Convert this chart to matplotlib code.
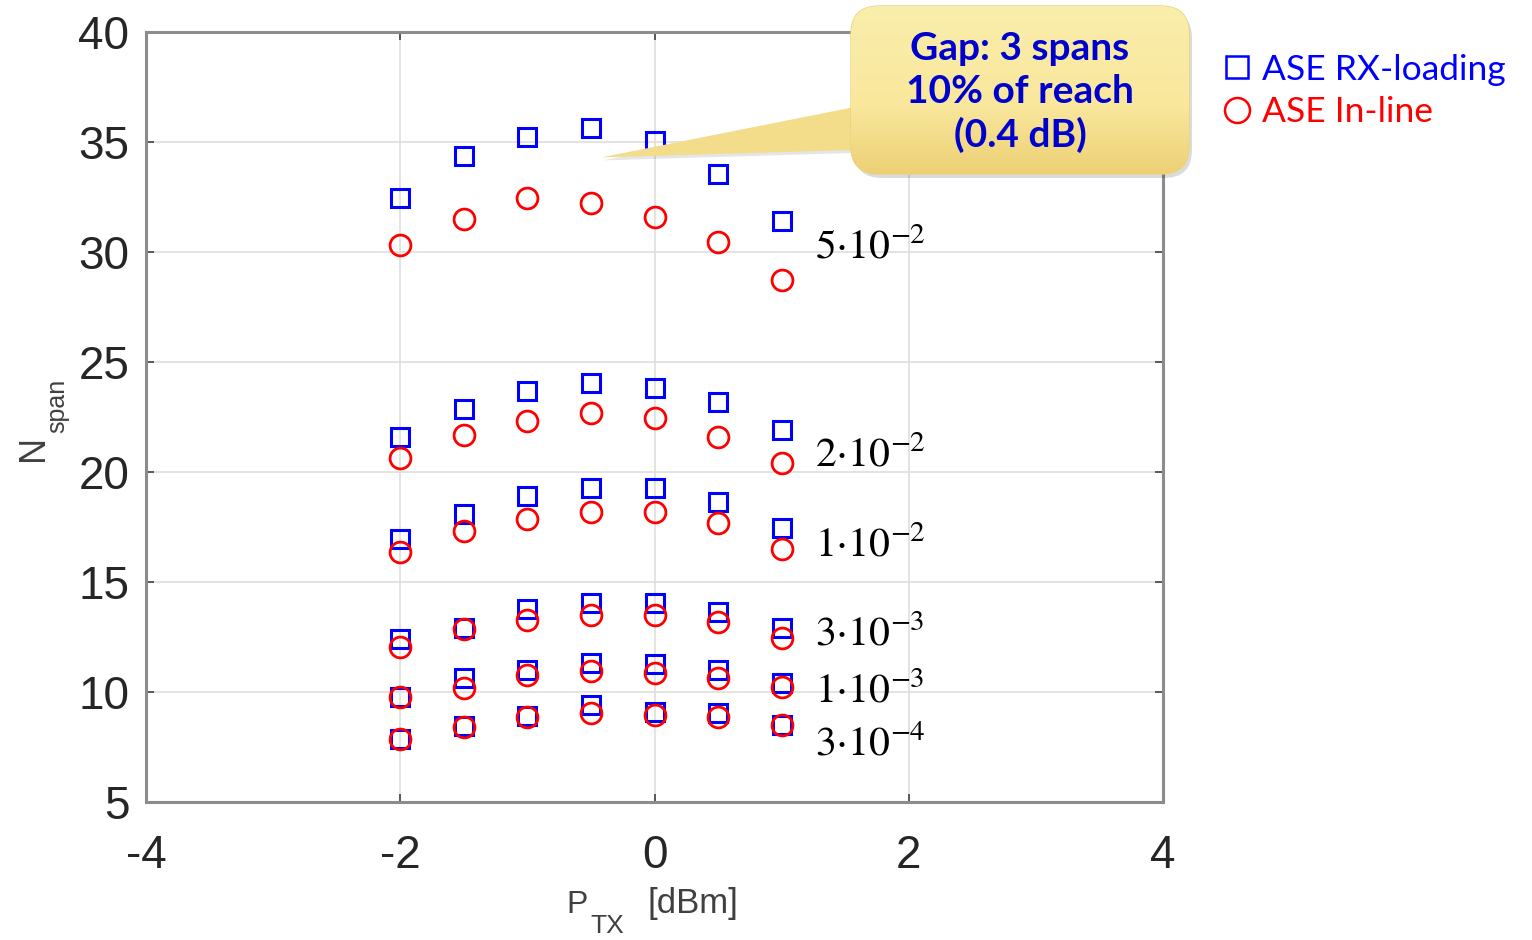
import numpy as np
import matplotlib
matplotlib.use("Agg")
import matplotlib.pyplot as plt
from matplotlib.patches import FancyBboxPatch, Polygon
from matplotlib.lines import Line2D

# Launch power sweep [dBm]
p_tx = [-2.0, -1.5, -1.0, -0.5, 0.0, 0.5, 1.0]

# Number of spans reached, ASE loading at the receiver (squares)
rx_5e2 = [32.44, 34.36, 35.21, 35.62, 35.05, 33.53, 31.41]
rx_2e2 = [21.60, 22.86, 23.70, 24.03, 23.83, 23.20, 21.90]
rx_1e2 = [16.94, 18.09, 18.92, 19.26, 19.26, 18.62, 17.44]
rx_3e3 = [12.39, 12.90, 13.76, 14.06, 14.06, 13.65, 12.92]
rx_1e3 = [9.79, 10.62, 11.00, 11.30, 11.27, 11.00, 10.42]
rx_3e4 = [7.86, 8.45, 8.91, 9.41, 9.10, 9.03, 8.50]

# Number of spans reached, ASE generated in-line (circles)
inl_5e2 = [30.32, 31.50, 32.44, 32.24, 31.60, 30.44, 28.73]
inl_2e2 = [20.62, 21.68, 22.33, 22.67, 22.47, 21.60, 20.42]
inl_1e2 = [16.38, 17.33, 17.86, 18.20, 18.20, 17.67, 16.49]
inl_3e3 = [12.06, 12.86, 13.27, 13.50, 13.50, 13.20, 12.44]
inl_1e3 = [9.76, 10.17, 10.77, 10.95, 10.85, 10.62, 10.24]
inl_3e4 = [7.86, 8.42, 8.88, 9.03, 8.95, 8.88, 8.50]

# Target BER of each curve pair
ber_labels = [r"$5{\cdot}10^{-2}$", r"$2{\cdot}10^{-2}$", r"$1{\cdot}10^{-2}$",
              r"$3{\cdot}10^{-3}$", r"$1{\cdot}10^{-3}$", r"$3{\cdot}10^{-4}$"]
label_x = 1.26
label_y = [29.72, 20.25, 16.18, 12.12, 9.52, 7.12]

x_ticks = [-4, -2, 0, 2, 4]
y_ticks = [5, 10, 15, 20, 25, 30, 35, 40]

legend_labels = ["ASE RX-loading", "ASE In-line"]
callout_text = "Gap: 3 spans\n10% of reach\n(0.4 dB)"

W, H = 1532, 940

fig = plt.figure(figsize=(W / 100, H / 100), dpi=100)
ax = fig.add_axes([146 / W, 1 - 802 / H, (1163 - 146) / W, (802 - 32) / H])

blue, red = "#0000FF", "#FF0000"
rx_sets = [rx_5e2, rx_2e2, rx_1e2, rx_3e3, rx_1e3, rx_3e4]
inl_sets = [inl_5e2, inl_2e2, inl_1e2, inl_3e3, inl_1e3, inl_3e4]
for rx in rx_sets:
    ax.plot(p_tx, rx, ls="none", marker="s", ms=12.5, mfc="none", mec=blue,
            mew=2.2, zorder=3)
for inl in inl_sets:
    ax.plot(p_tx, inl, ls="none", marker="o", ms=15, mfc="none", mec=red,
            mew=2.0, zorder=4)

for lab, yy in zip(ber_labels, label_y):
    ax.text(label_x, yy, lab, fontsize=30, math_fontfamily="stix",
            ha="left", va="baseline", color="black", zorder=5)

ax.set_xlim(-4, 4)
ax.set_ylim(5, 40)
ax.set_xticks(x_ticks)
ax.set_yticks(y_ticks)
ax.set_xticklabels([str(t) for t in x_ticks])
ax.grid(True, color="#DEDEDE", lw=1.2, zorder=0)
ax.set_axisbelow(True)
for s in ax.spines.values():
    s.set_color("#8C8C8C")
    s.set_linewidth(2.2)
ax.tick_params(direction="in", length=6, width=1.2, color="#404040",
               top=True, right=True, labelsize=33, labelcolor="#262626")
ax.tick_params(axis="y", pad=12)
ax.tick_params(axis="x", pad=23)
for lbl in ax.get_xticklabels() + ax.get_yticklabels():
    lbl.set_fontfamily("Liberation Sans")

# Legend outside the axes, text coloured like the markers
handles = [Line2D([], [], ls="none", marker="s", ms=16, mfc="none", mec=blue, mew=1.8),
           Line2D([], [], ls="none", marker="o", ms=18, mfc="none", mec=red, mew=1.8)]
ax.legend(handles, legend_labels, loc="upper left",
          bbox_to_anchor=(1205 / W, 1 - 36 / H), bbox_transform=fig.transFigure,
          frameon=False, handlelength=0.8, handletextpad=0.3, labelspacing=0.3,
          prop={"family": "Lato", "size": 25.5}, labelcolor="markeredgecolor",
          borderpad=0)

# Overlay in figure pixel coordinates for the axis labels and the callout
ov = fig.add_axes([0, 0, 1, 1], zorder=10)
ov.set_xlim(0, W)
ov.set_ylim(H, 0)
ov.axis("off")

# Axis labels with large, deep subscripts
lab_kw = dict(color="#404040", family="Liberation Sans", va="baseline",
              ha="left", rotation_mode="anchor")
ov.text(566, 913, "P", fontsize=23, **lab_kw)
ov.text(590, 933, "TX", fontsize=19, **lab_kw)
ov.text(648, 913, "[dBm]", fontsize=25, **lab_kw)
ov.text(43, 461, "N", fontsize=26, rotation=90, **lab_kw)
ov.text(64, 433, "span", fontsize=18, rotation=90, **lab_kw)

tip_disp = ax.transData.transform((-0.42, 34.3))
tip = (tip_disp[0], H - tip_disp[1])
bx0, by0, bx1, by1 = 851, 6, 1189, 174

wedge_shadow = Polygon([(tip[0] + 2, tip[1] + 3), (885, 104), (885, 152)],
                       closed=True, fc=(0, 0, 0, 0.10), ec="none")
ov.add_patch(wedge_shadow)
wedge = Polygon([tip, (885, 101), (885, 149)], closed=True,
                fc="#F3DD8A", ec="none")
ov.add_patch(wedge)

shadow = FancyBboxPatch((bx0 + 3, by0 + 4), bx1 - bx0, by1 - by0,
                        boxstyle="round,pad=0,rounding_size=28",
                        fc=(0, 0, 0, 0.14), ec="none")
ov.add_patch(shadow)
box = FancyBboxPatch((bx0, by0), bx1 - bx0, by1 - by0,
                     boxstyle="round,pad=0,rounding_size=28",
                     fc="#F8E79C", ec="#E9D27C", lw=1)
ov.add_patch(box)

top_c = np.array([250, 238, 172]) / 255
mid_c = np.array([249, 231, 156]) / 255
bot_c = np.array([236, 208, 116]) / 255
t = np.linspace(0, 1, 200)[:, None]
grad = np.where(t < 0.6, top_c + (mid_c - top_c) * (t / 0.6),
                mid_c + (bot_c - mid_c) * ((t - 0.6) / 0.4))
img = np.repeat(grad[:, None, :], 2, axis=1)
im = ov.imshow(img, extent=(bx0, bx1, by1, by0), aspect="auto",
               interpolation="bilinear", zorder=2)
im.set_clip_path(box)
ov.set_xlim(0, W)
ov.set_ylim(H, 0)

ov.text((bx0 + bx1) / 2, 92, callout_text, ha="center", va="center",
        multialignment="center", fontsize=28, fontweight="bold",
        family="Lato", color="#0000CC", linespacing=1.27, zorder=3)

fig.savefig("out.png", dpi=100, facecolor="white")
